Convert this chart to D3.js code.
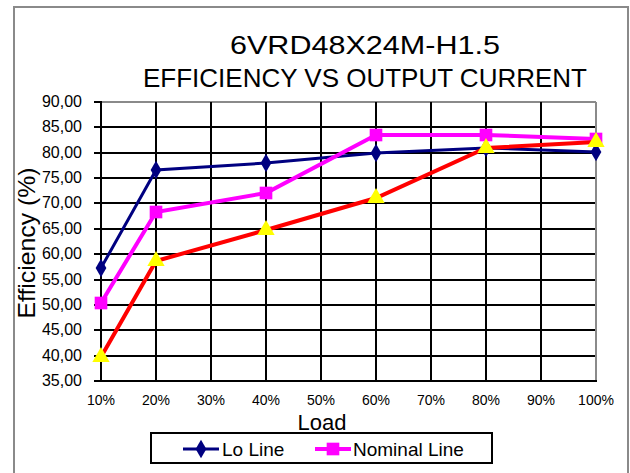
<!DOCTYPE html>
<html>
<head>
	<title>Efficiency vs Output Current</title>
	<script type="text/javascript" src="https://d3js.org/d3.v7.min.js"></script>
	<style>
		body { margin: 0; background: #fff; }
		text { font-family: Arial, "Liberation Sans", sans-serif; fill: #000; }
	</style>
</head>
<body>
<div id="container"></div>

<script type="text/javascript">

// categories on the x axis
var loads = ["10%","20%","30%","40%","50%","60%","70%","80%","90%","100%"];
// loads where measurements were taken
var measuredAt = ["10%","20%","40%","60%","80%","100%"];
// efficiency values (%)
var loLine = [57.2, 76.6, 77.9, 80.0, 80.9, 80.2];
var nominalLine = [50.4, 68.3, 72.0, 83.5, 83.5, 82.7];
var hiLine = [39.8, 58.6, 64.8, 71.1, 80.9, 82.1];
var yTicks = [35,40,45,50,55,60,65,70,75,80,85,90];

var width = 630;
var height = 473;

var svg = d3.select("#container").append("svg").attr("width",width).attr("height",height)

// outer chart frame
svg.append("path")
	.attr("d", "M14,473 L14,7 L628,7 L628,473")
	.attr("fill","none").attr("stroke","#8a8a8a").attr("stroke-width",2)

var x = d3.scalePoint().domain(loads).range([100, 597]).round(true);
var y = d3.scaleLinear().domain([35, 90]).rangeRound([381, 102]);

var comma = d3.formatLocale({decimal: ",", thousands: ".", grouping: [3], currency: ["", ""]});
var fmt = comma.format(".2f");

// titles
svg.append("text").attr("x",365).attr("y",54).attr("text-anchor","middle")
	.attr("font-size",26).attr("textLength",270).attr("lengthAdjust","spacingAndGlyphs")
	.text("6VRD48X24M-H1.5")
svg.append("text").attr("x",365).attr("y",87).attr("text-anchor","middle")
	.attr("font-size",25).attr("textLength",444).attr("lengthAdjust","spacingAndGlyphs")
	.text("EFFICIENCY VS OUTPUT CURRENT")

// grid
var grid = svg.append("g").attr("shape-rendering","crispEdges")
grid.selectAll("line.h").data(yTicks).enter().append("line")
	.attr("x1",x("10%")).attr("x2",x("100%"))
	.attr("y1",function(d){return y(d)}).attr("y2",function(d){return y(d)})
	.attr("stroke",function(d){return d==90 ? "#8a8a8a" : "#000"}).attr("stroke-width",2)
grid.selectAll("line.v").data(loads).enter().append("line")
	.attr("x1",function(d){return x(d)}).attr("x2",function(d){return x(d)})
	.attr("y1",y(35)).attr("y2",y(90))
	.attr("stroke",function(d){return d=="100%" ? "#8a8a8a" : "#000"}).attr("stroke-width",2)

// axes
var yAxis = svg.append("g").attr("transform","translate(" + x("10%") + ",0)")
	.call(d3.axisLeft(y).tickValues(yTicks).tickFormat(fmt).tickSize(7).tickPadding(12).offset(0))
yAxis.attr("shape-rendering","crispEdges")
yAxis.select(".domain").attr("stroke","#000").attr("stroke-width",2)
yAxis.selectAll(".tick line").attr("stroke","#000").attr("stroke-width",2)
yAxis.selectAll(".tick text").attr("font-size",16).attr("font-family","Arial, 'Liberation Sans', sans-serif").attr("fill","#000")

var xAxis = svg.append("g").attr("transform","translate(0," + y(35) + ")")
	.call(d3.axisBottom(x).tickSize(0).tickPadding(14).offset(0))
xAxis.attr("shape-rendering","crispEdges")
xAxis.select(".domain").attr("stroke","#000").attr("stroke-width",2)
xAxis.selectAll(".tick text").attr("font-size",14).attr("font-family","Arial, 'Liberation Sans', sans-serif").attr("fill","#000")

// axis titles
svg.append("text").attr("x",322).attr("y",430).attr("text-anchor","middle")
	.attr("font-size",22).text("Load")
svg.append("text").attr("transform","translate(35,243) rotate(-90)").attr("text-anchor","middle")
	.attr("font-size",24).attr("textLength",151).attr("lengthAdjust","spacingAndGlyphs")
	.text("Efficiency (%)")

// series
var series = [
	{name:"Lo Line", values:loLine, color:"#000080", width:3, marker:d3.symbolDiamond, size:100, fill:"#000080"},
	{name:"Nominal Line", values:nominalLine, color:"#ff00ff", width:4, marker:d3.symbolSquare, size:160, fill:"#ff00ff"},
	{name:"Hi Line", values:hiLine, color:"#ff0000", width:4, marker:d3.symbolTriangle, size:130, fill:"#ffff00"}
];

var line = d3.line()
	.x(function(d,i){return x(measuredAt[i])})
	.y(function(d){return y(d)});

series.forEach(function(s){
	var g = svg.append("g")
	g.append("path").datum(s.values).attr("d",line)
		.attr("fill","none").attr("stroke",s.color).attr("stroke-width",s.width)
	g.selectAll("path.m").data(s.values).enter().append("path")
		.attr("d", d3.symbol().type(s.marker).size(s.size))
		.attr("transform",function(d,i){return "translate(" + x(measuredAt[i]) + "," + y(d) + ")"})
		.attr("fill",s.fill)
})

// legend (only the first two series are shown in the original)
var legend = svg.append("g")
legend.append("rect").attr("x",151).attr("y",433).attr("width",341).attr("height",30)
	.attr("fill","#fff").attr("stroke","#000").attr("stroke-width",2)
var legendItems = [
	{s:series[0], x:183, tx:222},
	{s:series[1], x:315, tx:353}
];
legendItems.forEach(function(it){
	legend.append("line").attr("x1",it.x).attr("x2",it.x+36).attr("y1",449).attr("y2",449)
		.attr("stroke",it.s.color).attr("stroke-width",it.s.width)
	legend.append("path").attr("d", d3.symbol().type(it.s.marker).size(it.s.size))
		.attr("transform","translate(" + (it.x+18) + ",449)").attr("fill",it.s.fill)
	legend.append("text").attr("x",it.tx).attr("y",456).attr("font-size",19).text(it.s.name)
})

</script>
</body>
</html>
